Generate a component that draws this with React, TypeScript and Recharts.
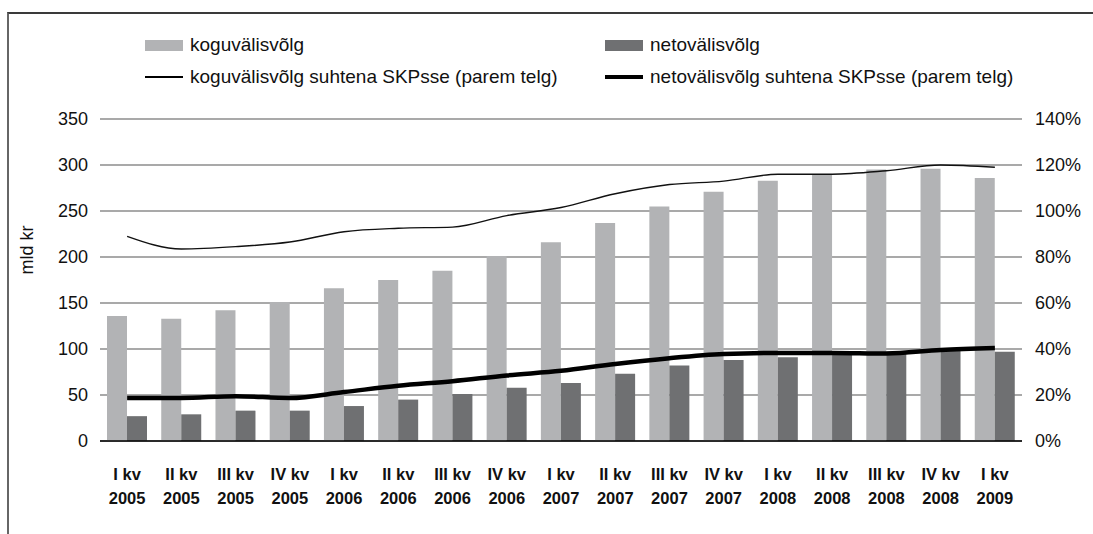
import {
  ComposedChart,
  Bar,
  Line,
  XAxis,
  YAxis,
  CartesianGrid,
} from "recharts";

const quarters = [
  "I kv 2005", "II kv 2005", "III kv 2005", "IV kv 2005",
  "I kv 2006", "II kv 2006", "III kv 2006", "IV kv 2006",
  "I kv 2007", "II kv 2007", "III kv 2007", "IV kv 2007",
  "I kv 2008", "II kv 2008", "III kv 2008", "IV kv 2008",
  "I kv 2009",
];
// mld kr
const grossDebt = [136, 133, 142, 151, 166, 175, 185, 201, 216, 237, 255, 271, 283, 290, 295, 296, 286];
const netDebt = [27, 29, 33, 33, 38, 45, 51, 58, 63, 73, 82, 88, 91, 96, 97, 99, 97];
// % of GDP (right axis)
const grossToGdp = [89, 83.5, 84.5, 86.5, 91, 92.5, 93, 98, 101.5, 107.5, 111.5, 113, 116, 116, 117.5, 120, 119];
const netToGdp = [18.7, 18.7, 19.5, 18.7, 21.3, 24, 26, 28.5, 30.5, 33.5, 36, 37.8, 38.3, 38.3, 38, 39.6, 40.4];

const leftTicks = [0, 50, 100, 150, 200, 250, 300, 350];
const rightTicks = [0, 20, 40, 60, 80, 100, 120, 140];

const data = quarters.map((q, i) => ({
  q,
  kogu: grossDebt[i],
  neto: netDebt[i],
  koguPct: grossToGdp[i],
  netoPct: netToGdp[i],
}));

const FONT = "'Liberation Sans', Arial, sans-serif";
const LIGHT = "#b2b3b5";
const DARK = "#6f7072";

function QuarterTick({ x, y, payload }: any) {
  const parts = String(payload.value).split(" ");
  const year = parts.pop();
  const q = parts.join(" ");
  return (
    <g>
      <text x={x} y={y + 31} textAnchor="middle" fontSize={16.5} fontWeight="bold" fill="#111" fontFamily={FONT}>
        {q}
      </text>
      <text x={x} y={y + 55} textAnchor="middle" fontSize={16.5} fontWeight="bold" fill="#111" fontFamily={FONT}>
        {year}
      </text>
    </g>
  );
}

function LegendRow() {
  const item = (left: number, top: number, swatch: any, label: string) => (
    <div style={{ position: "absolute", left, top, display: "flex", alignItems: "center", height: 20 }}>
      {swatch}
      <span style={{ marginLeft: 7, whiteSpace: "nowrap" }}>{label}</span>
    </div>
  );
  const box = (c: string) => <div style={{ width: 38, height: 11, background: c }} />;
  const line = (h: number) => <div style={{ width: 38, height: h, background: "#000" }} />;
  return (
    <div style={{ position: "absolute", left: 0, top: 0, fontFamily: FONT, fontSize: 19, color: "#111" }}>
      {item(145, 35, box(LIGHT), "koguvälisvõlg")}
      {item(605, 35, box(DARK), "netovälisvõlg")}
      {item(145, 67, line(1.5), "koguvälisvõlg suhtena SKPsse (parem telg)")}
      {item(605, 67, line(4.5), "netovälisvõlg suhtena SKPsse (parem telg)")}
    </div>
  );
}

export default function App() {
  return (
    <div style={{ position: "absolute", left: 0, top: 0, width: 1093, height: 534, background: "#fff", overflow: "hidden" }}>
      <div
        style={{
          position: "absolute",
          left: 7,
          top: 12,
          width: 1200,
          height: 600,
          borderTop: "2px solid #3a3a3a",
          borderLeft: "2px solid #666",
        }}
      />
      <LegendRow />
      <div style={{ position: "absolute", left: 0, top: 0 }}>
        <ComposedChart
          width={1093}
          height={534}
          data={data}
          margin={{ top: 119, right: 11, bottom: 33, left: 40 }}
          barGap={0}
        >
          <CartesianGrid yAxisId="left" vertical={false} stroke="#555" strokeWidth={1.2} />
          <XAxis
            dataKey="q"
            height={60}
            tick={<QuarterTick />}
            tickLine={false}
            axisLine={{ stroke: "#000", strokeWidth: 1.5 }}
            interval={0}
          />
          <YAxis
            yAxisId="left"
            width={60}
            domain={[0, 350]}
            ticks={leftTicks}
            tickLine={false}
            axisLine={false}
            tickMargin={6}
            tick={{ fontSize: 18, fill: "#111", fontFamily: FONT }}
            label={{
              content: () => (
                <text
                  x={33}
                  y={250}
                  transform="rotate(-90 33 250)"
                  textAnchor="middle"
                  fontSize={18}
                  fill="#111"
                  fontFamily={FONT}
                >
                  mld kr
                </text>
              ),
            }}
          />
          <YAxis
            yAxisId="right"
            orientation="right"
            width={60}
            domain={[0, 140]}
            ticks={rightTicks}
            tickLine={false}
            axisLine={false}
            tickMargin={7}
            tickFormatter={(v: number) => `${v}%`}
            tick={{ fontSize: 18, fill: "#111", fontFamily: FONT }}
          />
          <Bar yAxisId="left" dataKey="kogu" fill={LIGHT} barSize={20} isAnimationActive={false} />
          <Bar yAxisId="left" dataKey="neto" fill={DARK} barSize={20} isAnimationActive={false} />
          <Line
            yAxisId="right"
            dataKey="koguPct"
            type="monotone"
            stroke="#111"
            strokeWidth={1.4}
            dot={false}
            isAnimationActive={false}
          />
          <Line
            yAxisId="right"
            dataKey="netoPct"
            type="monotone"
            stroke="#000"
            strokeWidth={4.5}
            dot={false}
            isAnimationActive={false}
          />
        </ComposedChart>
      </div>
    </div>
  );
}
